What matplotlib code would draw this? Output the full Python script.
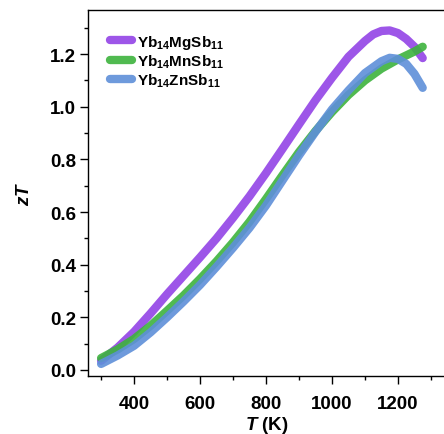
import matplotlib
matplotlib.use("Agg")
import matplotlib.pyplot as plt
from matplotlib.ticker import MultipleLocator

plt.rcParams["font.family"] = ["Liberation Sans", "DejaVu Sans"]
plt.rcParams["mathtext.fontset"] = "custom"
plt.rcParams["mathtext.rm"] = "Liberation Sans:bold"
plt.rcParams["mathtext.it"] = "Liberation Sans:bold:italic"
plt.rcParams["mathtext.bf"] = "Liberation Sans:bold"

# zT vs temperature for the three Yb14MSb11 compounds
T_mg = [300, 350, 400, 450, 500, 550, 600, 650, 700, 750, 800, 850, 900, 950,
        1000, 1050, 1100, 1125, 1150, 1175, 1200, 1225, 1250, 1275]
zT_mg = [0.035, 0.085, 0.145, 0.215, 0.288, 0.358, 0.428, 0.50, 0.578, 0.66,
         0.748, 0.84, 0.933, 1.025, 1.11, 1.19, 1.25, 1.275, 1.288, 1.29,
         1.28, 1.258, 1.228, 1.185]

T_mn = [300, 350, 400, 450, 500, 550, 600, 650, 700, 750, 800, 850, 900, 950,
        1000, 1050, 1100, 1150, 1200, 1250, 1275]
zT_mn = [0.045, 0.078, 0.118, 0.168, 0.225, 0.283, 0.346, 0.413, 0.485, 0.563,
         0.65, 0.74, 0.828, 0.908, 0.98, 1.045, 1.10, 1.145, 1.18, 1.21, 1.228]

T_zn = [300, 350, 400, 450, 500, 550, 600, 650, 700, 750, 800, 850, 900, 950,
        1000, 1050, 1100, 1150, 1175, 1200, 1225, 1250, 1275]
zT_zn = [0.023, 0.055, 0.092, 0.143, 0.20, 0.26, 0.323, 0.392, 0.464, 0.54,
         0.625, 0.72, 0.815, 0.905, 0.99, 1.062, 1.128, 1.173, 1.186, 1.182,
         1.163, 1.125, 1.072]

labels = [r"Yb$_{14}$MgSb$_{11}$", r"Yb$_{14}$MnSb$_{11}$", r"Yb$_{14}$ZnSb$_{11}$"]
colors = ["#9343E6", "#3DB33D", "#5E8FD9"]

fig = plt.figure(figsize=(4.44, 4.35), dpi=100)
ax = fig.add_axes([0.198, 0.1333, 0.806, 0.841])

for T, zt, lab, c in zip([T_mg, T_mn, T_zn], [zT_mg, zT_mn, zT_zn], labels, colors):
    ax.plot(T, zt, color=c, lw=6, alpha=0.9, label=lab,
            solid_capstyle="round", solid_joinstyle="round")

ax.set_xlim(260, 1345)
ax.set_ylim(-0.023, 1.367)
ax.xaxis.set_minor_locator(MultipleLocator(100))
ax.yaxis.set_minor_locator(MultipleLocator(0.1))
ax.set_xticks([400, 600, 800, 1000, 1200])
ax.set_xticklabels(["400", "600", "800", "1000", "1200"])
ax.set_yticks([0.0, 0.2, 0.4, 0.6, 0.8, 1.0, 1.2])
ax.set_yticklabels(["0.0", "0.2", "0.4", "0.6", "0.8", "1.0", "1.2"])

ax.tick_params(which="major", direction="out", length=6, width=1.0,
               labelsize=13.5)
ax.tick_params(which="minor", direction="out", length=3, width=1.0)
ax.tick_params(axis="x", which="major", pad=8)
ax.tick_params(axis="y", which="major", pad=2.5)
for lbl in ax.get_xticklabels() + ax.get_yticklabels():
    lbl.set_fontweight("bold")
for s in ax.spines.values():
    s.set_linewidth(1.0)

ax.set_xlabel(r"$T$ (K)", fontsize=13.5, fontweight="bold", labelpad=1)
ax.set_ylabel(r"$zT$", fontsize=13.5, fontweight="bold", labelpad=12)

leg = ax.legend(loc="upper left", bbox_to_anchor=(0.045, 0.955), frameon=False,
                prop={"weight": "bold", "size": 11}, handlelength=1.45,
                handletextpad=0.3, labelspacing=0.12, borderaxespad=0)
for h in leg.get_lines():
    h.set_linewidth(6)
    h.set_solid_capstyle("round")

fig.savefig("out.png", dpi=100)
